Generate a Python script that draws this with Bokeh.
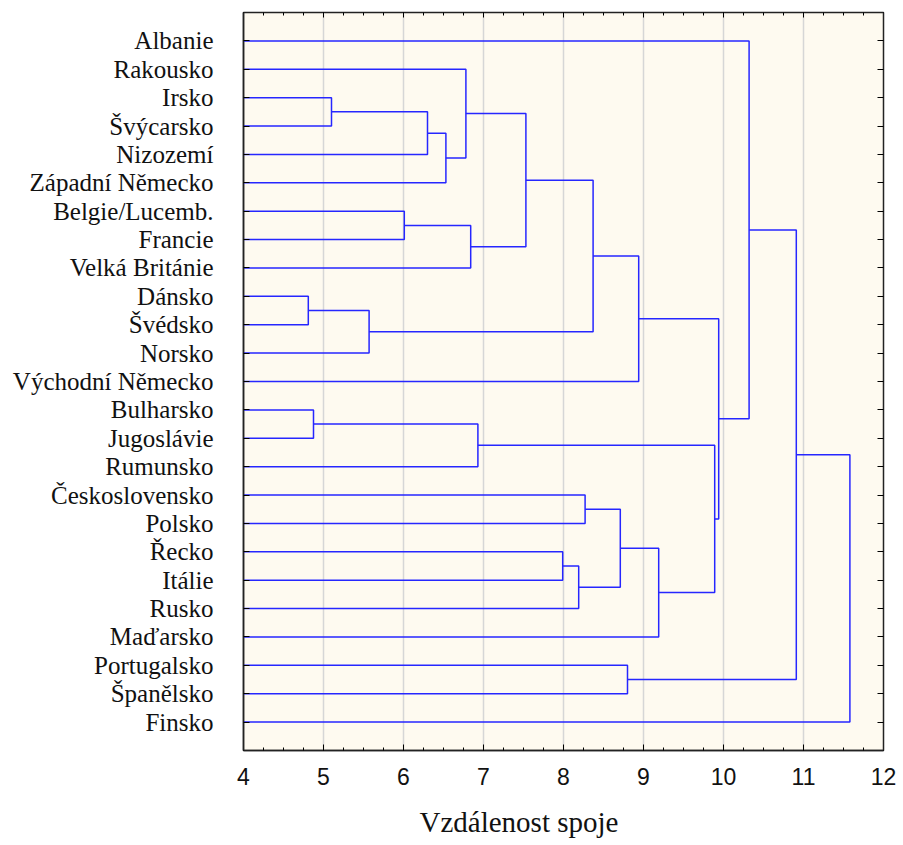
from bokeh.plotting import figure
from bokeh.models import (Range1d, LinearAxis, FixedTicker, SingleIntervalTicker,
                          ColumnDataSource, Title)
from bokeh.embed import file_html
from bokeh.resources import INLINE

# Leaves of the dendrogram, top to bottom
countries = [
    "Albanie", "Rakousko", "Irsko", "Švýcarsko", "Nizozemí", "Západní Německo",
    "Belgie/Lucemb.", "Francie", "Velká Británie", "Dánsko", "Švédsko", "Norsko",
    "Východní Německo", "Bulharsko", "Jugoslávie", "Rumunsko", "Československo",
    "Polsko", "Řecko", "Itálie", "Rusko", "Maďarsko", "Portugalsko", "Španělsko",
    "Finsko",
]

# Agglomeration steps: cluster ids < 25 are leaves, each merge creates id 25, 26, ...
merge_left = [2, 25, 26, 1, 6, 29, 28, 9, 32, 31, 34, 13, 36, 16, 18, 39, 38, 41,
              37, 35, 0, 22, 45, 47]
merge_right = [3, 4, 5, 27, 7, 8, 30, 10, 11, 33, 12, 14, 15, 17, 19, 20, 40, 21,
               42, 43, 44, 23, 46, 24]
merge_height = [5.10, 6.30, 6.53, 6.78, 6.01, 6.84, 7.53, 4.81, 5.57, 8.37, 8.94,
                4.875, 6.93, 8.27, 7.99, 8.19, 8.71, 9.19, 9.89, 9.94, 10.32, 8.80,
                10.91, 11.58]

x_ticks = [4, 5, 6, 7, 8, 9, 10, 11, 12]
axis_title = "Vzdálenost spoje"

n = len(countries)
node_x = {i: 0.0 for i in range(n)}
node_y = {i: float(i) for i in range(n)}
xs, ys = [], []
for k, (a, b, h) in enumerate(zip(merge_left, merge_right, merge_height)):
    cid = n + k
    xa, ya = node_x[a], node_y[a]
    xb, yb = node_x[b], node_y[b]
    xs.append([xa, h, h, xb])
    ys.append([ya, ya, yb, yb])
    node_x[cid] = h
    node_y[cid] = (ya + yb) / 2

p = figure(
    width=903, height=845, output_backend="svg", toolbar_location=None,
    x_range=Range1d(x_ticks[0], x_ticks[-1]), y_range=Range1d(n, -1),
    frame_width=640, frame_height=738,
    min_border_left=243, min_border_right=20, min_border_top=12,
    min_border_bottom=5, x_axis_location=None, y_axis_location=None,
)
p.background_fill_color = "#FEFAF0"
p.border_fill_color = "white"
p.outline_line_color = "#222222"
p.outline_line_width = 1.5

p.ygrid.visible = False
p.xgrid.ticker = FixedTicker(ticks=x_ticks)
p.xgrid.grid_line_color = "#D6D6D6"
p.xgrid.grid_line_width = 1.5

xticker = SingleIntervalTicker(interval=1, num_minor_ticks=4)
yticker = FixedTicker(ticks=list(range(n)))

bottom = LinearAxis(ticker=xticker)
bottom.major_tick_in = 6
bottom.major_tick_out = 0
bottom.minor_tick_in = 3
bottom.minor_tick_out = 0
bottom.major_label_text_font = "Liberation Sans"
bottom.major_label_text_font_size = "23px"
bottom.major_label_text_color = "#111111"
bottom.major_label_standoff = 17
bottom.axis_line_color = "#222222"
bottom.axis_line_width = 1.5
p.add_layout(bottom, "below")

# x-axis caption, set slightly left of the frame centre
p.add_layout(Title(text=axis_title, align="left", offset=176,
                   text_font="Liberation Serif", text_font_size="29px",
                   text_font_style="normal", text_color="#111111",
                   standoff=32), "below")

top = LinearAxis(ticker=xticker)
top.major_tick_in = 5
top.major_tick_out = 0
top.minor_tick_in = 3
top.minor_tick_out = 0
top.major_label_overrides = {t: "" for t in x_ticks}
top.major_label_standoff = 0
top.axis_line_color = "#222222"
p.add_layout(top, "above")

left = LinearAxis(ticker=yticker)
left.major_label_overrides = {i: name for i, name in enumerate(countries)}
left.major_tick_in = 6
left.major_tick_out = 0
left.minor_tick_line_color = None
left.major_label_text_font = "Liberation Serif"
left.major_label_text_font_size = "25px"
left.major_label_text_color = "#111111"
left.major_label_standoff = 30
left.axis_line_color = "#222222"
left.axis_line_width = 1.5
p.add_layout(left, "left")

right = LinearAxis(ticker=yticker)
right.major_tick_in = 6
right.major_tick_out = 0
right.minor_tick_line_color = None
right.major_label_overrides = {i: "" for i in range(n)}
right.major_label_standoff = 0
right.axis_line_color = "#222222"
p.add_layout(right, "right")

src = ColumnDataSource(dict(xs=xs, ys=ys))
p.multi_line("xs", "ys", source=src, line_color="#2626FF", line_width=1.5)

open("out.html", "w").write(file_html(p, INLINE))
